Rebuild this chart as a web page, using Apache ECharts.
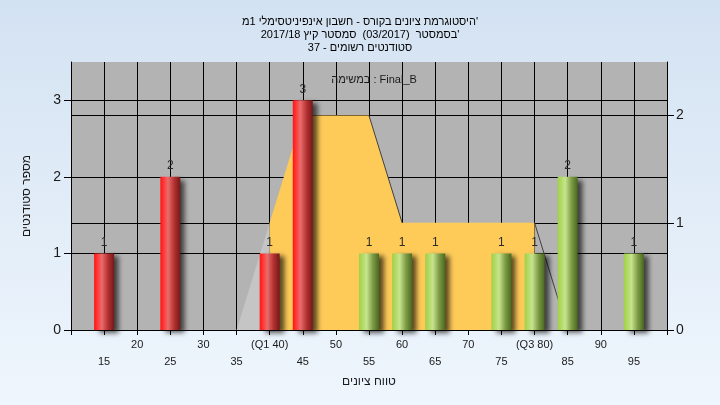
<!DOCTYPE html>
<html>
<head>
<meta charset="utf-8">
<script src="https://cdn.jsdelivr.net/npm/echarts@6/dist/echarts.min.js"></script>
<style>html,body{margin:0;padding:0;}#c{width:720px;height:405px;}</style>
</head>
<body>
<div id="c"></div>
<script>
// Data
var titleLines = [
  "היסטוגרמת ציונים בקורס - חשבון אינפיניטסימלי 1מ'",
  "בסמסטר  (03/2017)  סמסטר קיץ 2017/18'",
  "סטודנטים רשומים - 37"
];
var subtitleText = "במשימה : Final_B";
var xAxisName = "טווח ציונים";
var yAxisName = "מספר סטודנטים";
var tickLabels = {40: "(Q1 40)", 80: "(Q3 80)"};
var redBars = [[15, 1], [25, 2], [40, 1], [45, 3]];
var greenBars = [[55, 1], [60, 1], [65, 1], [75, 1], [80, 1], [85, 2], [95, 1]];
var leftRamp = [[35, 0], [40, 1]];
var quartileArea = [[40, 1], [45, 2], [50, 2], [55, 2], [60, 1], [65, 1], [70, 1], [75, 1], [80, 1]];
var fallEdge = [[55, 2], [60, 1]];
var rightRamp = [[80, 1], [85, 0]];

var FONT = '"Liberation Sans", "DejaVu Sans", Arial, sans-serif';
var chart = echarts.init(document.getElementById('c'));

function grad(stops) {
  return new echarts.graphic.LinearGradient(0, 0, 1, 0, stops);
}
var redGrad = grad([
  {offset: 0, color: '#ff1414'}, {offset: 0.18, color: '#ff3a3a'},
  {offset: 0.38, color: '#ea6c6c'}, {offset: 0.7, color: '#b23030'},
  {offset: 1, color: '#761818'}
]);
var greenGrad = grad([
  {offset: 0, color: '#a2d046'}, {offset: 0.18, color: '#b2da66'},
  {offset: 0.38, color: '#c6e48e'}, {offset: 0.7, color: '#7c9a44'},
  {offset: 1, color: '#4a6820'}
]);
var barItem = function (c) {
  return {
    color: c,
    shadowColor: 'rgba(0,0,0,0.65)', shadowBlur: 5,
    shadowOffsetX: 5, shadowOffsetY: 3
  };
};
var barLabel = {
  show: true, position: 'top', distance: 5,
  fontSize: 12, color: '#2a2a2a', fontFamily: FONT
};

chart.setOption({
  backgroundColor: new echarts.graphic.LinearGradient(0, 0, 0, 1, [
    {offset: 0, color: '#d3e2f2'}, {offset: 1, color: '#eff6fd'}
  ]),
  animation: false,
  title: [{
    text: titleLines.join('\n'),
    left: 'center', top: 10,
    textStyle: {fontSize: 11, fontWeight: 'normal', color: '#000', lineHeight: 13, fontFamily: FONT}
  }, {
    text: subtitleText,
    left: 369, textAlign: 'center', top: 69,
    textStyle: {fontSize: 11, fontWeight: 'normal', color: '#1a1a1a', fontFamily: FONT}
  }],
  grid: {
    left: 71, right: 53, top: 62, bottom: 75,
    show: true, backgroundColor: '#b3b3b3', borderWidth: 0
  },
  xAxis: {
    type: 'value', min: 10, max: 100, interval: 5,
    name: xAxisName, nameLocation: 'middle', nameGap: 46,
    nameTextStyle: {fontSize: 12, color: '#1a1a1a', fontFamily: FONT},
    axisLine: {show: true, lineStyle: {color: '#000', width: 1}},
    axisTick: {show: true, length: 5, lineStyle: {color: '#000'}},
    splitLine: {show: true, lineStyle: {color: '#000', width: 1}},
    axisLabel: {
      margin: 6, fontSize: 11, color: '#1a1a1a', lineHeight: 17, fontFamily: FONT,
      formatter: function (v) {
        if (v <= 10 || v >= 100) return '';
        var t = tickLabels[v] || String(v);
        return (v % 10 === 0) ? t : '\n' + t;
      }
    }
  },
  yAxis: [{
    type: 'value', min: 0, max: 3.5, interval: 1, position: 'left',
    name: yAxisName, nameLocation: 'middle', nameGap: 38,
    nameTextStyle: {fontSize: 12, color: '#1a1a1a', fontFamily: FONT},
    axisLine: {show: true, lineStyle: {color: '#000', width: 1}},
    axisTick: {show: true, length: 7, lineStyle: {color: '#000'}},
    axisLabel: {margin: 10, fontSize: 14, color: '#1a1a1a', fontFamily: FONT, showMaxLabel: false},
    splitLine: {show: true, lineStyle: {color: ['#000', '#000', '#000', '#000', 'rgba(0,0,0,0)'], width: 1}}
  }, {
    type: 'value', min: 0, max: 2.5, interval: 1, position: 'right',
    axisLine: {show: true, lineStyle: {color: '#000', width: 1}},
    axisTick: {show: true, length: 7, lineStyle: {color: '#000'}},
    axisLabel: {margin: 9, fontSize: 14, color: '#1a1a1a', fontFamily: FONT, showMaxLabel: false},
    splitLine: {show: true, lineStyle: {color: ['#000', '#000', '#000', 'rgba(0,0,0,0)'], width: 1}}
  }],
  series: [{
    type: 'line', yAxisIndex: 1, data: leftRamp, symbol: 'none',
    lineStyle: {width: 0}, areaStyle: {color: '#c5c5c5', opacity: 1}, z: 1
  }, {
    type: 'line', yAxisIndex: 1, data: quartileArea, symbol: 'none',
    lineStyle: {width: 0}, areaStyle: {color: '#fecb59', opacity: 1}, z: 1
  }, {
    type: 'line', yAxisIndex: 1, data: fallEdge, symbol: 'none',
    lineStyle: {width: 1, color: '#404040'}, z: 2
  }, {
    type: 'line', yAxisIndex: 1, data: rightRamp, symbol: 'none',
    lineStyle: {width: 1, color: '#404040'}, z: 2
  }, {
    type: 'bar', yAxisIndex: 0, data: redBars, barWidth: 20,
    itemStyle: barItem(redGrad), label: barLabel, z: 3
  }, {
    type: 'bar', yAxisIndex: 0, data: greenBars, barWidth: 20, barGap: '-100%',
    itemStyle: barItem(greenGrad), label: barLabel, z: 3
  }]
});
</script>
</body>
</html>
